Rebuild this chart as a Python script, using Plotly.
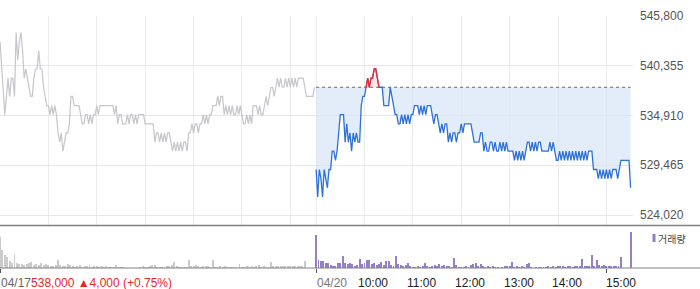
import numpy as np
import plotly.graph_objects as go

# ---------------- data ----------------
# prices in thousand KRW, one sample every 2 minutes, 09:00 .. 15:30
price_0417 = [
    543, 540, 537, 535, 537, 539, 537, 539, 539, 537,
    544, 541, 543, 544, 542, 539, 540, 539, 538, 537,
    537, 539, 540, 540, 542, 540, 540, 538, 537, 536,
    536, 535, 536, 535, 536, 535, 533, 532, 533, 531,
    532, 533, 533, 534, 537, 537, 536, 536, 536, 536,
    535, 534, 534, 535, 535, 534, 535, 534, 535, 535,
    536, 535, 536, 536, 536, 536, 536, 536, 536, 536,
    536, 535, 536, 534, 535, 535, 534, 534, 534, 535,
    534, 535, 535, 534, 535, 534, 535, 535, 535, 535,
    534, 534, 534, 534, 534, 534, 532, 533, 533, 532,
    533, 532, 533, 532, 533, 533, 532, 531, 532, 531,
    532, 531, 532, 531, 532, 532, 531, 533, 533, 534,
    533, 534, 534, 533, 534, 534, 535, 534, 535, 534,
    535, 535, 536, 536, 536, 537, 536, 537, 537, 535,
    536, 535, 536, 535, 536, 535, 535, 536, 535, 536,
    535, 534, 534, 535, 534, 535, 534, 536, 536, 536,
    535, 536, 535, 535, 536, 537, 536, 537, 538, 538,
    537, 538, 539, 538, 539, 538, 538, 539, 538, 539,
    538, 539, 538, 539, 538, 539, 539, 539, 539, 538,
    537, 537, 537, 537, 537, 538,
]
price_0420 = [
    529, 526, 529, 528, 526, 529, 528, 527, 529, 529,
    531, 531, 530, 531, 533, 535, 535, 535, 532, 534,
    532, 533, 531, 533, 532, 533, 532, 532, 536, 537,
    537, 538, 539, 538, 539, 539, 540, 540, 539, 538,
    538, 538, 536, 536, 536, 536, 538, 537, 536, 535,
    535, 534, 534, 535, 534, 535, 534, 535, 534, 535,
    535, 536, 536, 536, 535, 536, 535, 536, 535, 536,
    536, 536, 535, 534, 535, 535, 534, 533, 534, 533,
    534, 534, 532, 533, 532, 533, 533, 532, 533, 533,
    534, 533, 534, 534, 534, 534, 534, 533, 532, 532,
    532, 532, 533, 533, 531, 532, 531, 531, 532, 532,
    531, 532, 531, 531, 532, 531, 532, 531, 532, 531,
    531, 531, 531, 530, 531, 530, 531, 530, 531, 530,
    531, 532, 532, 531, 532, 531, 532, 531, 532, 532,
    531, 531, 531, 531, 531, 532, 531, 532, 531, 530,
    530, 531, 530, 531, 530, 531, 530, 531, 530, 531,
    530, 531, 530, 531, 530, 531, 530, 531, 530, 531,
    531, 531, 529, 529, 529, 528, 529, 528, 529, 528,
    529, 528, 529, 528, 529, 529, 529, 528, 529, 530,
    530, 530, 530, 530, 530, 527,
]
# volume (relative units), one bar every 3 minutes, 09:00 .. 15:30 (last = closing auction)
vol_0417 = [
    31, 18, 13, 11, 7, 5, 14, 5, 4, 4,
    3, 4, 5, 6, 3, 4, 3, 5, 3, 4,
    3, 2, 2, 3, 8, 3, 2, 2, 4, 3,
    2, 1, 2, 3, 1, 2, 2, 3, 1, 2,
    2, 1, 2, 1, 2, 1, 1, 1, 3, 1,
    1, 1, 0, 0, 0, 0, 0, 0, 1, 2,
    1, 1, 2, 3, 3, 1, 1, 1, 1, 2,
    2, 3, 6, 2, 1, 1, 1, 1, 8, 2,
    2, 3, 2, 1, 2, 2, 2, 1, 8, 1,
    1, 2, 1, 2, 1, 1, 1, 1, 0, 4,
    1, 1, 2, 1, 2, 1, 2, 3, 1, 2,
    1, 1, 6, 2, 2, 2, 2, 2, 2, 2,
    2, 2, 2, 2, 2, 2, 7, 0, 0, 0,
    0,
]
vol_0420 = [
    33, 8, 7, 7, 5, 5, 3, 2, 2, 5,
    5, 12, 5, 4, 5, 4, 2, 3, 9, 4,
    5, 8, 8, 4, 5, 3, 4, 6, 3, 7,
    7, 3, 2, 12, 4, 3, 2, 3, 5, 2,
    1, 1, 2, 1, 2, 5, 2, 1, 2, 3,
    2, 4, 2, 3, 2, 2, 1, 10, 3, 1,
    1, 1, 2, 1, 3, 4, 5, 2, 4, 2,
    1, 2, 1, 2, 1, 1, 0, 1, 2, 2,
    2, 6, 1, 2, 1, 2, 1, 4, 5, 1,
    0, 1, 1, 1, 1, 1, 2, 1, 2, 1,
    2, 2, 2, 1, 2, 2, 1, 2, 2, 2,
    9, 2, 2, 2, 13, 2, 8, 3, 2, 3,
    2, 2, 2, 2, 2, 2, 11, 0, 0, 0,
    36,
]
prev_close = 538  # thousand KRW
change_text = "538,000 ▲4,000 (+0.75%)"
day_labels = ["04/17", "04/20"]
hour_labels = ["10:00", "11:00", "12:00", "13:00", "14:00", "15:00"]
y_ticks = [524020, 529465, 534910, 540355, 545800]

# ---------------- layout constants ----------------
W, H = 700, 289
PLOT_R = 633                 # right edge of plot area (px)
DAY2 = 392                   # session-minute where 04/20 starts
XMAX = 785
P_TOP, P_BOT = 16, 225       # price panel px
V_TOP, V_BOT = 226, 268      # volume panel px
GRID_PX = 49.75              # px between price grid lines


def py(px):
    return 1 - px / H


def pxx(px):
    return px / PLOT_R


step = y_ticks[1] - y_ticks[0]
y_lo = y_ticks[-1] - (P_BOT - P_TOP) / GRID_PX * step

p1 = np.array(price_0417) * 1000
p2 = np.array(price_0420) * 1000
pc = prev_close * 1000
x1 = np.arange(len(p1)) * 2
x2 = DAY2 + np.arange(len(p2)) * 2
xv1 = np.arange(len(vol_0417)) * 3
xv2 = DAY2 + np.arange(len(vol_0420)) * 3

BLUE = "#2f72d6"
RED = "#f22a2a"
GRAY_LINE = "#c6c6cb"
PURPLE = "#9580c8"
SHAPE = "linear"

fig = go.Figure()
base = np.full(len(p2), pc)
fig.add_trace(go.Scatter(x=x2, y=base, mode="lines", line=dict(width=0, shape=SHAPE),
                         hoverinfo="skip", showlegend=False))
fig.add_trace(go.Scatter(x=x2, y=np.minimum(p2, pc), mode="lines", line=dict(width=0, shape=SHAPE),
                         fill="tonexty", fillcolor="rgba(215,228,246,0.7)", hoverinfo="skip", showlegend=False))
fig.add_trace(go.Scatter(x=x2, y=base, mode="lines", line=dict(width=0, shape=SHAPE),
                         hoverinfo="skip", showlegend=False))
fig.add_trace(go.Scatter(x=x2, y=np.maximum(p2, pc), mode="lines", line=dict(width=0, shape=SHAPE),
                         fill="tonexty", fillcolor="rgba(255,222,222,0.7)", hoverinfo="skip", showlegend=False))
# previous close dotted line
fig.add_trace(go.Scatter(x=[x2[0], x2[-1]], y=[pc, pc], mode="lines",
                         line=dict(color="#666", width=1, dash="dot"), showlegend=False))
# day 1 line
fig.add_trace(go.Scatter(x=x1, y=p1, mode="lines", line=dict(color=GRAY_LINE, width=1.2, shape=SHAPE),
                         showlegend=False))
# day 2 line
fig.add_trace(go.Scatter(x=x2, y=p2, mode="lines", line=dict(color=BLUE, width=1.3, shape=SHAPE),
                         showlegend=False))
# red segment above previous close
above = p2 > pc
mask = above | np.r_[False, above[:-1]] | np.r_[above[1:], False]
red_y = np.where(mask, np.maximum(p2, pc), np.nan)
fig.add_trace(go.Scatter(x=x2, y=red_y, mode="lines", line=dict(color=RED, width=1.3, shape=SHAPE),
                         connectgaps=False, showlegend=False))

# volume
fig.add_trace(go.Bar(x=xv1, y=vol_0417, width=1.2, marker=dict(color="#cbcbcb", line=dict(width=0)),
                     xaxis="x2", yaxis="y2", showlegend=False))
fig.add_trace(go.Bar(x=xv2, y=vol_0420, width=1.2, marker=dict(color=PURPLE, line=dict(width=0)),
                     xaxis="x2", yaxis="y2", showlegend=False))

grid_x = list(range(0, 361, 60)) + [DAY2 + h for h in range(0, 361, 60)]

FONT = "Arial, 'Liberation Sans', sans-serif"
fig.update_layout(
    width=W, height=H,
    margin=dict(l=0, r=W - PLOT_R, t=0, b=0, autoexpand=False),
    paper_bgcolor="white", plot_bgcolor="white",
    font=dict(family=FONT, size=12, color="#555"),
    bargap=0,
    xaxis=dict(domain=[0, 1], range=[0, XMAX], tickvals=grid_x, showticklabels=False,
               showgrid=True, gridcolor="#ebebeb", gridwidth=1, zeroline=False, showline=False,
               ticks="", anchor="y", automargin=False),
    yaxis=dict(domain=[py(P_BOT), py(P_TOP)], range=[y_lo, y_ticks[-1]], side="right",
               tickvals=y_ticks, tickformat=",", showgrid=True, gridcolor="#e6e6e6",
               zeroline=False, showline=False, ticks="", ticklabelstandoff=6,
               tickfont=dict(size=12, color="#555"), anchor="x", automargin=False),
    xaxis2=dict(domain=[0, 1], range=[0, XMAX], tickvals=[0, DAY2, DAY2 + 360],
                showticklabels=False, showgrid=False, zeroline=False, showline=False,
                ticks="outside", ticklen=4, tickcolor="#555", tickwidth=1, anchor="y2",
                automargin=False),
    yaxis2=dict(domain=[py(V_BOT), py(V_TOP)], range=[0, 42], visible=False, anchor="x2",
                automargin=False),
)

shapes = [
    dict(type="line", xref="paper", yref="paper", x0=0, x1=pxx(W), y0=py(P_BOT + 0.5), y1=py(P_BOT + 0.5),
         line=dict(color="#808080", width=1.5)),
    dict(type="line", xref="paper", yref="paper", x0=0, x1=pxx(W), y0=py(V_BOT), y1=py(V_BOT),
         line=dict(color="#808080", width=1)),
    dict(type="rect", xref="paper", yref="paper", x0=pxx(652.5), x1=pxx(655.5), y0=py(242), y1=py(234),
         fillcolor=PURPLE, line=dict(width=0)),
]
fig.update_layout(shapes=shapes)

ann = []
LBL_Y = py(283)
ann.append(dict(x=0, xref="x2", y=LBL_Y, yref="paper", xanchor="left", yanchor="middle",
                text=day_labels[0] + "<span style='color:#e8262a'>" + change_text + "</span>",
                showarrow=False, borderpad=0, font=dict(size=12, color="#666", family=FONT)))
ann.append(dict(x=DAY2, xref="x2", y=LBL_Y, yref="paper", xanchor="left", yanchor="middle",
                text=day_labels[1], showarrow=False, borderpad=0,
                font=dict(size=12, color="#777", family=FONT)))
for i, lab in enumerate(hour_labels):
    xv = DAY2 + 60 * (i + 1)
    if i == len(hour_labels) - 1:
        ann.append(dict(x=xv, xref="x2", y=LBL_Y, yref="paper", xanchor="left", yanchor="middle",
                        text=lab, showarrow=False, borderpad=0, xshift=-1,
                        font=dict(size=12, color="#222", family=FONT)))
    else:
        ann.append(dict(x=xv, xref="x2", y=LBL_Y, yref="paper", xanchor="center", yanchor="middle",
                        text=lab, showarrow=False, borderpad=0, xshift=9,
                        font=dict(size=12, color="#222", family=FONT)))
ann.append(dict(x=pxx(657), xref="paper", y=py(238), yref="paper", xanchor="left", yanchor="middle",
                text="거래량", showarrow=False, borderpad=0,
                font=dict(size=10, color="#444", family="'Noto Sans CJK KR', sans-serif")))
fig.update_layout(annotations=ann)

fig.write_html("out.html")
